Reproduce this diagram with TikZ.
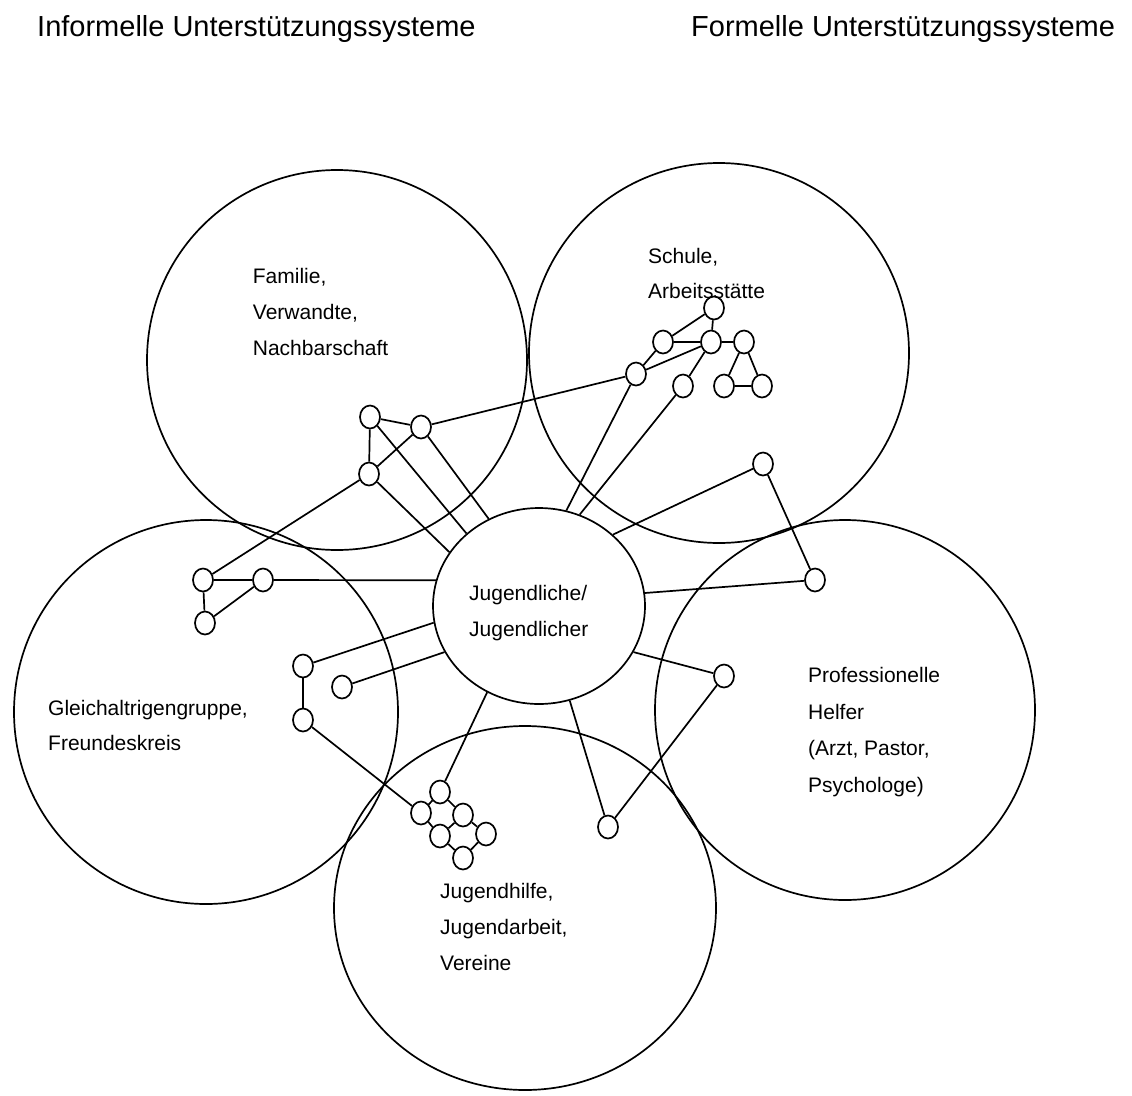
\documentclass[tikz,border=0pt]{standalone}
\usepackage{fontspec}
\setmainfont{Liberation Sans}
\usetikzlibrary{shapes.geometric}
\begin{document}
\begin{tikzpicture}[x=1pt,y=-1pt,
  bigc/.style={circle,draw,line width=1.7pt,inner sep=0pt},
  sn/.style={ellipse,draw,fill=white,line width=1.7pt,minimum width=20pt,minimum height=23pt,inner sep=0pt},
  con/.style={line width=1.7pt},
  lab/.style={anchor=base west,inner sep=0pt,font=\fontsize{21}{25}\selectfont},
  head/.style={anchor=base west,inner sep=0pt,font=\fontsize{29}{33}\selectfont}]
\useasboundingbox (0,0) rectangle (1132,1095);
\fill[white] (0,0) rectangle (1132,1095);

% headings
\node[head] (h1) at (37,36.7) {Informelle Unterstützungssysteme};
\node[head] (h2) at (691,36.7) {Formelle Unterstützungssysteme};

% big circles
\node[bigc,minimum size=380pt] (fam) at (337,360) {};
\node[bigc,minimum size=380pt] (sch) at (719,353) {};
\node[bigc,minimum size=384pt] (gle) at (206,712) {};
\node[bigc,minimum size=380pt] (pro) at (845,710) {};
\node[ellipse,draw,line width=1.7pt,inner sep=0pt,minimum width=382pt,minimum height=364pt] (jug) at (525,908) {};
\node[ellipse,draw,line width=1.7pt,inner sep=0pt,minimum width=212pt,minimum height=196pt] (c) at (539,606) {};

% labels
\node[lab] (l1a) at (252.7,283.5) {Familie,};
\node[lab] (l1b) at (252.7,319.3) {Verwandte,};
\node[lab] (l1c) at (252.7,355) {Nachbarschaft};
\node[lab] (l2a) at (648,263) {Schule,};
\node[lab] (l2b) at (648,298) {Arbeitsstätte};
\node[lab] (l3a) at (469,600) {Jugendliche/};
\node[lab] (l3b) at (469,636.7) {Jugendlicher};
\node[lab] (l4a) at (48,715) {Gleichaltrigengruppe,};
\node[lab] (l4b) at (48,750.7) {Freundeskreis};
\node[lab] (l5a) at (808,682.3) {Professionelle};
\node[lab] (l5b) at (808,719) {Helfer};
\node[lab] (l5c) at (808,755.7) {(Arzt, Pastor,};
\node[lab] (l5d) at (808,792) {Psychologe)};
\node[lab] (l6a) at (440,898) {Jugendhilfe,};
\node[lab] (l6b) at (440,934) {Jugendarbeit,};
\node[lab] (l6c) at (440,970) {Vereine};

% small nodes: Schule cluster
\node[sn] (s1) at (714,308) {};
\node[sn] (s2) at (663,342) {};
\node[sn] (s3) at (711,342) {};
\node[sn] (s4) at (744,342) {};
\node[sn] (s5) at (636,374) {};
\node[sn] (s6) at (683,386) {};
\node[sn] (s7) at (724,386) {};
\node[sn] (s8) at (762,386) {};
% Familie cluster
\node[sn] (f1) at (370,417) {};
\node[sn] (f2) at (421,427) {};
\node[sn] (f3) at (369,474) {};
% left cluster
\node[sn] (g1) at (203,580) {};
\node[sn] (g2) at (263,580) {};
\node[sn] (g3) at (205,623) {};
\node[sn] (g4) at (303,666) {};
\node[sn] (g5) at (342,687) {};
\node[sn] (g6) at (303,720) {};
% bottom cluster
\node[sn] (j1) at (440,792) {};
\node[sn] (j2) at (421,813) {};
\node[sn] (j3) at (463,815) {};
\node[sn] (j4) at (440,836) {};
\node[sn] (j5) at (486,834) {};
\node[sn] (j6) at (463,858) {};
% right nodes
\node[sn] (p1) at (763,464) {};
\node[sn] (p2) at (815,580) {};
\node[sn] (p3) at (724,676) {};
\node[sn] (p4) at (608,827) {};

% connectors
\draw[con] (s1) -- (s2);
\draw[con] (s1) -- (s3);
\draw[con] (s2) -- (s3);
\draw[con] (s3) -- (s4);
\draw[con] (s2) -- (s5);
\draw[con] (s3) -- (s5);
\draw[con] (s3) -- (s6);
\draw[con] (s4) -- (s7);
\draw[con] (s4) -- (s8);
\draw[con] (s7) -- (s8);
\draw[con] (s5) -- (f2);
\draw[con] (s5) -- (c.74);
\draw[con] (s6) -- (c.66.6);

\draw[con] (f1) -- (f2);
\draw[con] (f1) -- (f3);
\draw[con] (f2) -- (f3);
\draw[con] (f1) -- (c.135.8);
\draw[con] (f2) -- (c.120);
\draw[con] (f3) -- (c.149.3);
\draw[con] (f3) -- (g1);

\draw[con] (g1) -- (g2);
\draw[con] (g1) -- (g3);
\draw[con] (g2) -- (g3);
\draw[con] (g2) -- (c.166);
\draw[con] (g4) -- (c.189);
\draw[con] (g5) -- (c.206.6);
\draw[con] (g4) -- (g6);
\draw[con] (g6) -- (j2);

\draw[con] (j1) -- (j2);
\draw[con] (j1) -- (j3);
\draw[con] (j2) -- (j4);
\draw[con] (j3) -- (j4);
\draw[con] (j3) -- (j5);
\draw[con] (j4) -- (j6);
\draw[con] (j5) -- (j6);
\draw[con] (j1) -- (c.239);

\draw[con] (p1) -- (p2);
\draw[con] (p1) -- (c.44);
\draw[con] (p2) -- (c.7.5);
\draw[con] (p3) -- (c.-26.6);
\draw[con] (p3) -- (p4);
\draw[con] (p4) -- (c.-72.9);
\end{tikzpicture}
\end{document}
